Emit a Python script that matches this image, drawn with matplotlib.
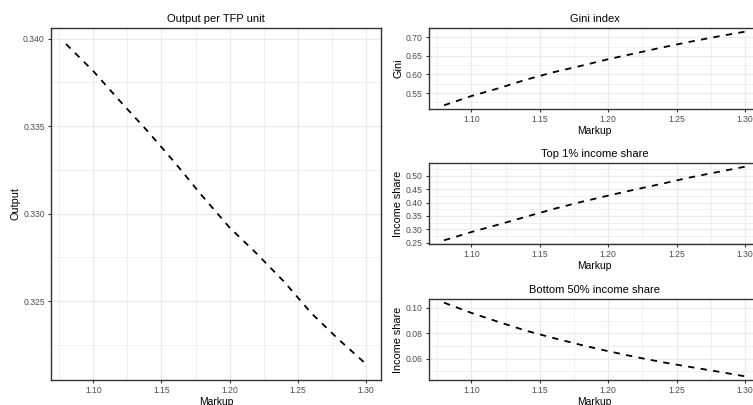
import matplotlib
matplotlib.use("Agg")
import matplotlib.pyplot as plt
from matplotlib.ticker import MultipleLocator, AutoMinorLocator, FormatStrFormatter

plt.rcParams['font.family'] = ['Liberation Sans', 'DejaVu Sans']

# markup grid
markup = [1.08, 1.10, 1.12, 1.14, 1.16, 1.18, 1.20, 1.22, 1.24, 1.26, 1.28, 1.30]

output = [0.3397, 0.33815, 0.3364, 0.3347, 0.3329, 0.3310, 0.3292,
          0.3277, 0.3261, 0.3243, 0.3228, 0.3214]
gini = [0.517, 0.542, 0.563, 0.586, 0.606, 0.623, 0.641,
        0.657, 0.673, 0.688, 0.702, 0.715]
top1 = [0.259, 0.290, 0.318, 0.347, 0.376, 0.402, 0.426,
        0.449, 0.471, 0.494, 0.514, 0.534]
bottom50 = [0.1042, 0.0961, 0.0889, 0.0820, 0.0762, 0.0708, 0.0658,
            0.0612, 0.0570, 0.0533, 0.0497, 0.0459]

fig = plt.figure(figsize=(7.53, 4.05), dpi=100)
W, H = 753.0, 405.0


def box(x0, y0, x1, y1):
    # pixel box -> figure fraction
    return [x0 / W, 1 - y1 / H, (x1 - x0) / W, (y1 - y0) / H]


def style(ax, title, ylab, ystep, yfmt):
    ax.set_facecolor('white')
    ax.grid(which='major', color='#EBEBEB', lw=0.9, zorder=0)
    ax.grid(which='minor', color='#EBEBEB', lw=0.5, zorder=0)
    ax.set_axisbelow(True)
    for s in ax.spines.values():
        s.set_color('#333333')
        s.set_linewidth(1.0)
    ax.xaxis.set_major_locator(MultipleLocator(0.05))
    ax.xaxis.set_minor_locator(AutoMinorLocator(2))
    ax.xaxis.set_major_formatter(FormatStrFormatter('%.2f'))
    ax.yaxis.set_major_locator(MultipleLocator(ystep))
    ax.yaxis.set_minor_locator(AutoMinorLocator(2))
    ax.yaxis.set_major_formatter(FormatStrFormatter(yfmt))
    ax.tick_params(which='major', direction='out', length=2.5, width=0.8,
                   color='#333333', labelcolor='#4D4D4D', labelsize=6.2, pad=2)
    ax.tick_params(which='minor', length=0)
    ax.margins(x=0.05, y=0.05)
    ax.set_title(title, fontsize=8, pad=4)
    ax.set_xlabel('Markup', fontsize=7.4, labelpad=1)
    ax.set_ylabel(ylab, fontsize=7.8, labelpad=2)


ax1 = fig.add_axes(box(51, 28, 381, 380))
ax1.plot(markup, output, color='black', lw=1.3, dashes=(3.5, 3.5))
style(ax1, 'Output per TFP unit', 'Output', 0.005, '%.3f')

ax2 = fig.add_axes(box(429, 28, 760, 109))
ax2.plot(markup, gini, color='black', lw=1.3, dashes=(3.5, 3.5))
style(ax2, 'Gini index', 'Gini', 0.05, '%.2f')

ax3 = fig.add_axes(box(429, 163, 760, 244))
ax3.plot(markup, top1, color='black', lw=1.3, dashes=(3.5, 3.5))
style(ax3, 'Top 1% income share', 'Income share', 0.05, '%.2f')

ax4 = fig.add_axes(box(429, 299, 760, 380))
ax4.plot(markup, bottom50, color='black', lw=1.3, dashes=(3.5, 3.5))
style(ax4, 'Bottom 50% income share', 'Income share', 0.02, '%.2f')

fig.savefig('out.png', dpi=100)
